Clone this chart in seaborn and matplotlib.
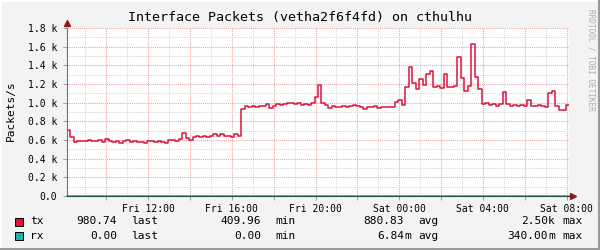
import matplotlib
matplotlib.use("Agg")
import matplotlib.pyplot as plt
import matplotlib.dates as mdates
from matplotlib.ticker import MultipleLocator, FuncFormatter
from matplotlib.patches import Rectangle
from matplotlib.lines import Line2D
import pandas as pd
import seaborn as sns

# ---------------- data (10-minute steps, packets/s) ----------------
start_time = "2024-03-01 08:07"   # a Friday
step = "10min"
tx_values = [
    707, 630, 580, 585, 590, 585, 595, 590, 585, 600,
    580, 610, 590, 575, 585, 570, 590, 595, 580, 590,
    575, 580, 565, 590, 585, 575, 590, 580, 570, 600,
    605, 590, 615, 680, 620, 605, 630, 640, 630, 645,
    635, 640, 660, 640, 660, 645, 640, 630, 660, 640,
    930, 960, 955, 965, 955, 960, 965, 990, 940, 960,
    985, 975, 990, 1000, 995, 990, 995, 980, 985, 975,
    1000, 1065, 1185, 1000, 980, 945, 965, 950, 955, 960,
    950, 965, 975, 960, 955, 935, 955, 950, 960, 945,
    955, 950, 955, 950, 1010, 1030, 970, 1170, 1380, 1215,
    1150, 1250, 1190, 1310, 1340, 1170, 1175, 1160, 1310, 1170,
    1165, 1175, 1490, 1260, 1120, 1180, 1630, 1270, 1150, 985,
    1000, 975, 990, 965, 985, 1115, 990, 960, 975, 965,
    970, 960, 1030, 965, 960, 970, 965, 955, 1100, 1120,
    965, 925, 920, 980,
]
rx_values = [0.0] * len(tx_values)

legend_names = ["tx", "rx"]
legend_last = [("980.74", " "), ("0.00", " ")]
legend_min = [("409.96", " "), ("0.00", " ")]
legend_avg = [("880.83", " "), ("6.84", "m")]
legend_max = [("2.50", "k"), ("340.00", "m")]

y_ticks = [0, 200, 400, 600, 800, 1000, 1200, 1400, 1600, 1800]
title = "Interface Packets (vetha2f6f4fd) on cthulhu"
y_label = "Packets/s"
watermark = "RRDTOOL / TOBI OETIKER"

TX_COLOR = "#DC143C"
RX_COLOR = "#20B2AA"
MONO = "DejaVu Sans Mono"

# ---------------- build frame ----------------
times = pd.date_range(start_time, periods=len(tx_values), freq=step)
end_pt = times[-1] + pd.Timedelta(step)
t_ext = list(times) + [end_pt]
df = pd.DataFrame({
    "time": t_ext,
    "tx": tx_values + [tx_values[-1]],
    "rx": rx_values + [rx_values[-1]],
})

W, H = 600, 250
fig = plt.figure(figsize=(6, 2.5), dpi=100)
fig.patch.set_facecolor("#F3F3F3")

def fx(x):
    return x / W

def fy(y):
    return 1 - y / H

left, right, top, bottom = 67, 569, 28, 196
ax = fig.add_axes([fx(left), fy(bottom), (right - left) / W, (bottom - top) / H])
ax.set_facecolor("white")

sns.lineplot(data=df, x="time", y="tx", ax=ax, color=TX_COLOR, linewidth=1.1,
             drawstyle="steps-post", zorder=3)
sns.lineplot(data=df, x="time", y="rx", ax=ax, color=RX_COLOR, linewidth=1.1,
             drawstyle="steps-post", zorder=4, clip_on=False)

ax.set_xlim(pd.Timestamp(start_time), pd.Timestamp(start_time) + pd.Timedelta("24h"))
ax.set_ylim(0, 1800)
ax.set_xlabel("")
ax.set_ylabel("")

# x grid
ax.xaxis.set_major_locator(mdates.HourLocator(interval=2))
ax.xaxis.set_minor_locator(mdates.HourLocator(interval=1))

def xfmt(v, pos):
    d = mdates.num2date(v)
    if d.hour % 4 == 0:
        return d.strftime("%a %H:%M")
    return ""

ax.xaxis.set_major_formatter(FuncFormatter(xfmt))

# y grid
ax.yaxis.set_major_locator(MultipleLocator(200))
ax.yaxis.set_minor_locator(MultipleLocator(100))
ax.yaxis.set_major_formatter(FuncFormatter(
    lambda v, p: "0.0" if v == 0 else f"{v/1000:.1f} k"))

dot = (0, (1, 1))
ax.grid(which="major", color="#F2A0A0", linestyle=dot, linewidth=0.75, zorder=1)
ax.grid(which="minor", color="#D8D8D8", linestyle=dot, linewidth=0.75, zorder=0)

ax.tick_params(axis="both", which="major", labelsize=7, length=3, width=0.7,
               color="#A0A0A0", pad=4)
ax.tick_params(axis="x", which="major", pad=3)
ax.tick_params(axis="both", which="minor", length=0)
for lbl in ax.get_xticklabels() + ax.get_yticklabels():
    lbl.set_fontfamily(MONO)

for s in ["top", "right"]:
    ax.spines[s].set_visible(False)
ax.spines["left"].set_color("#707070")
ax.spines["left"].set_linewidth(0.8)
ax.spines["bottom"].set_color("#1F4F4C")
ax.spines["bottom"].set_linewidth(0.8)
ax.spines["left"].set_zorder(5)
ax.spines["bottom"].set_zorder(5)

# arrows at axis ends
ax.plot([0], [1.03], marker="^", markersize=4, color="#8B1A1A",
        transform=ax.transAxes, clip_on=False)
ax.plot([1.008], [0], marker=">", markersize=4, color="#8B1A1A",
        transform=ax.transAxes, clip_on=False)

# title, y label, watermark
fig.text(fx(300), fy(18), title, ha="center", va="center", fontsize=9.6,
         family=MONO, color="black")
fig.text(fx(10.5), fy(111), y_label, ha="center", va="center", fontsize=8,
         rotation=90, family=MONO)
fig.text(fx(591), fy(60), watermark, ha="center", va="center", fontsize=5.6,
         rotation=270, family=MONO, color="#B0B0B0")

# legend rows
row_y = [221.5, 236]
colors = [TX_COLOR, RX_COLOR]
for i in range(2):
    y = row_y[i]
    fig.patches.append(Rectangle((fx(15), fy(y + 4)), 8 / W, 8 / H,
                                 transform=fig.transFigure, facecolor=colors[i],
                                 edgecolor="black", linewidth=0.7))
    kw = dict(va="center", fontsize=8, family=MONO)
    fig.text(fx(30), fy(y), legend_names[i], ha="left", **kw)
    for (num, suf), xend, word in [(legend_last[i], 117, "last"),
                                   (legend_min[i], 261, "min"),
                                   (legend_avg[i], 404, "avg"),
                                   (legend_max[i], 548, "max")]:
        fig.text(fx(xend), fy(y), num, ha="right", **kw)
        if suf.strip():
            fig.text(fx(xend), fy(y), suf, ha="left", **kw)
        fig.text(fx(xend + 14), fy(y), word, ha="left", **kw)

# 3D-ish frame
fig.add_artist(Line2D([0, 1], [fy(0.5), fy(0.5)], color="white", linewidth=1.5,
                      transform=fig.transFigure))
fig.add_artist(Line2D([fx(0.5), fx(0.5)], [0, 1], color="white", linewidth=1.5,
                      transform=fig.transFigure))
fig.add_artist(Line2D([0, 1], [fy(249), fy(249)], color="#9A9A9A", linewidth=1.5,
                      transform=fig.transFigure))
fig.add_artist(Line2D([fx(599), fx(599)], [0, 1], color="#9A9A9A", linewidth=1.5,
                      transform=fig.transFigure))

fig.savefig("out.png", dpi=100, facecolor=fig.get_facecolor())
